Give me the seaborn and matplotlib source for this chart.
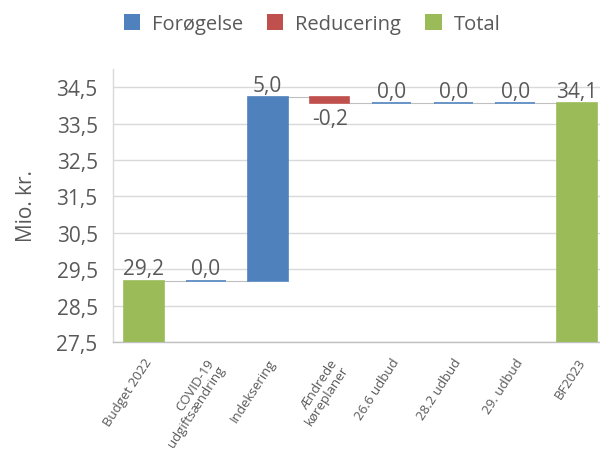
import matplotlib
matplotlib.use("Agg")
import matplotlib.pyplot as plt
import seaborn as sns
import numpy as np
from matplotlib.patches import Patch

categories = ["Budget 2022", "COVID-19\nudgiftsændring", "Indeksering", "Ændrede\nkøreplaner",
              "26.6 udbud", "28.2 udbud", "29. udbud", "BF2023"]
values = [29.18, 0.0, 5.04, -0.16, 0.0, 0.0, 0.0, 34.06]
kinds = ["Total", "Forøgelse", "Forøgelse", "Reducering", "Forøgelse", "Forøgelse", "Forøgelse", "Total"]
yticks = [27.5, 28.5, 29.5, 30.5, 31.5, 32.5, 33.5, 34.5]

sns.set_theme(style="white")
plt.rcParams["font.family"] = ["Open Sans", "DejaVu Sans"]

colors = {"Forøgelse": "#4F81BD", "Reducering": "#C0504D", "Total": "#9BBB59"}
txt = "#595959"

fig = plt.figure(figsize=(6.0, 4.6), dpi=100)
ax = fig.add_axes([113/600, 1-343/460, 487/600, (343-70)/460])

ymin = 27.5
bottoms, tops = [], []
running = 0.0
for v, k in zip(values, kinds):
    if k == "Total":
        b, t = ymin, v
        running = v
    else:
        b = running
        t = running + v
        running = t
    bottoms.append(b)
    tops.append(t)

def fmt(v):
    return f"{round(v + (1e-9 if v >= 0 else -1e-9), 1):.1f}".replace(".", ",")

x = np.arange(len(categories))
w = 0.64
for i in range(len(categories)):
    lo, hi = min(bottoms[i], tops[i]), max(bottoms[i], tops[i])
    c = colors[kinds[i]]
    ax.bar(x[i], hi - lo, bottom=lo, width=w, color=c, edgecolor=c, linewidth=1.2, zorder=3)
    lab = fmt(values[i])
    if values[i] < 0:
        ax.text(x[i], lo - 0.12, lab, ha="center", va="top", fontsize=15, color=txt, zorder=4)
    else:
        ax.text(x[i], hi + 0.04, lab, ha="center", va="bottom", fontsize=15, color=txt, zorder=4)
    if i < len(categories) - 1:
        lvl = tops[i]
        ax.plot([x[i] + w/2, x[i+1] - w/2], [lvl, lvl], color="#BFBFBF", lw=0.8, zorder=2)

ax.set_xlim(-0.5, 7.37)
ax.set_ylim(27.5, 35.0)
ax.set_yticks(yticks)
ax.set_yticklabels([f"{t:.1f}".replace(".", ",") for t in yticks], fontsize=15, color=txt)
ax.set_xticks(x)
ax.set_xticklabels(categories, rotation=57, ha="right", rotation_mode="anchor",
                   fontsize=9.5, color=txt, linespacing=1.0)
ax.tick_params(axis="y", length=0, pad=11)
ax.tick_params(axis="x", length=0, pad=10)
ax.grid(axis="y", color="#D9D9D9", lw=1, zorder=0)
ax.set_ylabel("Mio. kr.", fontsize=15, color=txt, labelpad=14)
for s in ["top", "right"]:
    ax.spines[s].set_visible(False)
ax.spines["left"].set_color("#D9D9D9")
ax.spines["bottom"].set_color("#BFBFBF")
ax.spines["left"].set_linewidth(1)
ax.spines["bottom"].set_linewidth(1)

handles = [Patch(facecolor=colors[k], edgecolor="none") for k in ["Forøgelse", "Reducering", "Total"]]
fig.legend(handles, ["Forøgelse", "Reducering", "Total"], loc="center", bbox_to_anchor=(312/600, 1-25/460),
           ncol=3, frameon=False, fontsize=14.5, labelcolor=txt, handlelength=0.8, handleheight=0.8,
           handletextpad=0.6, columnspacing=1.2)

fig.savefig("out.png", dpi=100)
